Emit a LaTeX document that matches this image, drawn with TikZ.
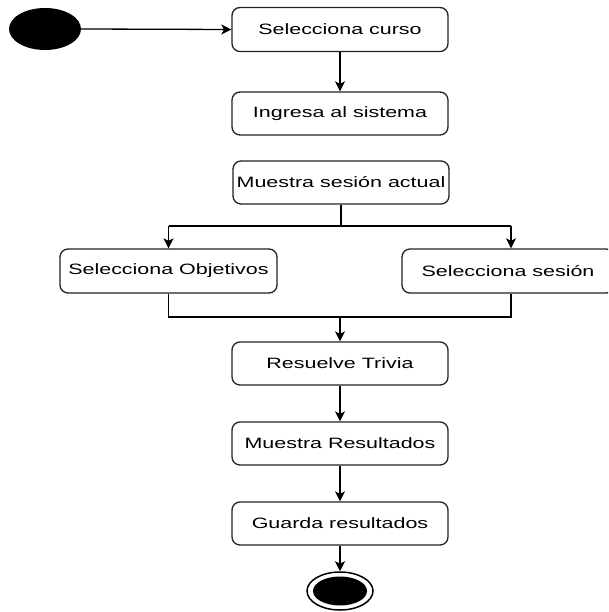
\documentclass[tikz,border=0pt]{standalone}
\usepackage{fontspec}
\setmainfont{Liberation Sans}[FakeStretch=1.43]
\usetikzlibrary{arrows.meta,shapes.geometric}
\definecolor{edge}{HTML}{222222}
\begin{document}
\begin{tikzpicture}[x=1pt,y=-1pt,
  activity/.style={draw=edge, line width=1.3pt, rounded corners=8pt, fill=white,
    minimum width=216pt, minimum height=44pt, inner sep=0pt,
    font=\fontsize{15}{18}\selectfont, text=black},
  flow/.style={draw=black, line width=1.3pt,
    -{Stealth[length=10pt,width=10pt,inset=2.5pt]}},
  link/.style={draw=black, line width=1.3pt}]
\useasboundingbox (0,0) rectangle (608,612);
\clip (0,0) rectangle (608,612);

% initial and final states
\node (start) [ellipse, fill=black, minimum width=72pt, minimum height=42pt, inner sep=0pt] at (45,29) {};
\node (finish) [ellipse, draw=black, line width=1.5pt, fill=white, minimum width=66pt, minimum height=38pt, inner sep=0pt] at (340,591) {};
\node (finishdot) [ellipse, fill=black, minimum width=54pt, minimum height=29pt, inner sep=0pt] at (340,591) {};

% activities
\node (curso)    [activity] at (340,29.5) {Selecciona curso};
\node (ingresa)  [activity, minimum height=43pt] at (340,113.5) {Ingresa al sistema};
\node (muestra)  [activity, minimum height=43pt] at (341,182.5) {Muestra sesión actual};
\node (objetivos)[activity, minimum width=217pt] at (168.5,271) {Selecciona Objetivos};
\node (sesion)   [activity, minimum width=212pt] at (508,271) {Selecciona sesión};
\node (trivia)   [activity, minimum height=43pt] at (340,363.5) {Resuelve Trivia};
\node (resultados)[activity, minimum height=43pt] at (340,443.5) {Muestra Resultados};
\node (guarda)   [activity, minimum height=43pt] at (340,523.5) {Guarda resultados};

% fork and join points
\coordinate (forkC) at (341,226);
\coordinate (forkL) at (168.5,226);
\coordinate (forkR) at (511,226);
\coordinate (joinL) at (168.5,317);
\coordinate (joinR) at (511,317);
\coordinate (joinC) at (340,317);

% transitions
\draw[flow] (start.east) -- (curso.west);
\draw[flow] (curso) -- (ingresa);
\draw[link] (muestra.south) -- (forkC);
\draw[link] (forkL) -- (forkR);
\draw[flow] (forkL) -- (objetivos.north);
\draw[flow] (forkR) -- (forkR |- sesion.north);
\draw[link] (objetivos.south) -- (joinL) -- (joinR) -- (joinR |- sesion.south);
\draw[flow] (joinC) -- (trivia.north);
\draw[flow] (trivia) -- (resultados);
\draw[flow] (resultados) -- (guarda);
\draw[flow] (guarda) -- (finish);
\end{tikzpicture}
\end{document}
